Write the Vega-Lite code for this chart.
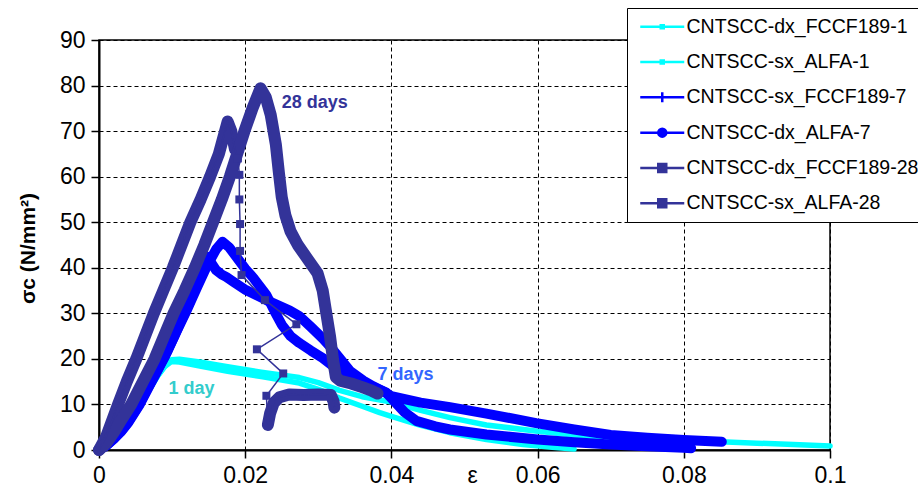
{
  "$schema": "https://vega.github.io/schema/vega-lite/v6.json",
  "width": 731,
  "height": 410,
  "autosize": {"type": "none"},
  "padding": {"left": 99, "top": 40, "right": 88, "bottom": 48},
  "background": "white",
  "config": {
    "view": {"stroke": "black", "strokeWidth": 1.5},
    "axis": {
      "grid": true, "gridColor": "black", "gridDash": [4, 3], "gridWidth": 1, "gridOpacity": 1,
      "domainColor": "black", "domainWidth": 2, "tickColor": "black", "tickWidth": 1.5, "tickSize": 8,
      "labelColor": "black", "labelFont": "Liberation Sans", "labelFontSize": 23,
      "titleColor": "black", "titleFont": "Liberation Sans"
    }
  },
  "datasets": {
    "curves": [
      {"series": "CNTSCC-dx_FCCF189-1", "e": 0, "s": 0},
      {"series": "CNTSCC-dx_FCCF189-1", "e": 0.001, "s": 1},
      {"series": "CNTSCC-dx_FCCF189-1", "e": 0.002, "s": 2.5},
      {"series": "CNTSCC-dx_FCCF189-1", "e": 0.003, "s": 4.2},
      {"series": "CNTSCC-dx_FCCF189-1", "e": 0.004, "s": 6.2},
      {"series": "CNTSCC-dx_FCCF189-1", "e": 0.005, "s": 8.5},
      {"series": "CNTSCC-dx_FCCF189-1", "e": 0.006, "s": 11},
      {"series": "CNTSCC-dx_FCCF189-1", "e": 0.007, "s": 13.6},
      {"series": "CNTSCC-dx_FCCF189-1", "e": 0.008, "s": 16.2},
      {"series": "CNTSCC-dx_FCCF189-1", "e": 0.009, "s": 18.4},
      {"series": "CNTSCC-dx_FCCF189-1", "e": 0.0099, "s": 19.8},
      {"series": "CNTSCC-dx_FCCF189-1", "e": 0.011, "s": 19.9},
      {"series": "CNTSCC-dx_FCCF189-1", "e": 0.0138, "s": 19.3},
      {"series": "CNTSCC-dx_FCCF189-1", "e": 0.0176, "s": 18.3},
      {"series": "CNTSCC-dx_FCCF189-1", "e": 0.0222, "s": 17.1},
      {"series": "CNTSCC-dx_FCCF189-1", "e": 0.0274, "s": 15.9},
      {"series": "CNTSCC-dx_FCCF189-1", "e": 0.03, "s": 14.8},
      {"series": "CNTSCC-dx_FCCF189-1", "e": 0.0329, "s": 13.1},
      {"series": "CNTSCC-dx_FCCF189-1", "e": 0.036, "s": 11.7},
      {"series": "CNTSCC-dx_FCCF189-1", "e": 0.04, "s": 10.5},
      {"series": "CNTSCC-dx_FCCF189-1", "e": 0.044, "s": 8.7},
      {"series": "CNTSCC-dx_FCCF189-1", "e": 0.048, "s": 7.1},
      {"series": "CNTSCC-dx_FCCF189-1", "e": 0.053, "s": 5.5},
      {"series": "CNTSCC-dx_FCCF189-1", "e": 0.06, "s": 4.1},
      {"series": "CNTSCC-dx_FCCF189-1", "e": 0.065, "s": 3.3},
      {"series": "CNTSCC-dx_FCCF189-1", "e": 0.07, "s": 2.8},
      {"series": "CNTSCC-dx_FCCF189-1", "e": 0.075, "s": 2.4},
      {"series": "CNTSCC-dx_FCCF189-1", "e": 0.08, "s": 2.1},
      {"series": "CNTSCC-dx_FCCF189-1", "e": 0.085, "s": 1.8},
      {"series": "CNTSCC-dx_FCCF189-1", "e": 0.09, "s": 1.5},
      {"series": "CNTSCC-dx_FCCF189-1", "e": 0.095, "s": 1.2},
      {"series": "CNTSCC-dx_FCCF189-1", "e": 0.1, "s": 0.9},

      {"series": "CNTSCC-sx_ALFA-1", "e": 0, "s": 0},
      {"series": "CNTSCC-sx_ALFA-1", "e": 0.001, "s": 1},
      {"series": "CNTSCC-sx_ALFA-1", "e": 0.002, "s": 2.5},
      {"series": "CNTSCC-sx_ALFA-1", "e": 0.003, "s": 4.2},
      {"series": "CNTSCC-sx_ALFA-1", "e": 0.004, "s": 6.2},
      {"series": "CNTSCC-sx_ALFA-1", "e": 0.005, "s": 8.5},
      {"series": "CNTSCC-sx_ALFA-1", "e": 0.006, "s": 11},
      {"series": "CNTSCC-sx_ALFA-1", "e": 0.007, "s": 13.6},
      {"series": "CNTSCC-sx_ALFA-1", "e": 0.008, "s": 16.2},
      {"series": "CNTSCC-sx_ALFA-1", "e": 0.009, "s": 18.3},
      {"series": "CNTSCC-sx_ALFA-1", "e": 0.0099, "s": 19.4},
      {"series": "CNTSCC-sx_ALFA-1", "e": 0.011, "s": 19.3},
      {"series": "CNTSCC-sx_ALFA-1", "e": 0.0138, "s": 18.4},
      {"series": "CNTSCC-sx_ALFA-1", "e": 0.0176, "s": 17.3},
      {"series": "CNTSCC-sx_ALFA-1", "e": 0.0222, "s": 16.1},
      {"series": "CNTSCC-sx_ALFA-1", "e": 0.0274, "s": 14.7},
      {"series": "CNTSCC-sx_ALFA-1", "e": 0.03, "s": 13.3},
      {"series": "CNTSCC-sx_ALFA-1", "e": 0.0329, "s": 11.4},
      {"series": "CNTSCC-sx_ALFA-1", "e": 0.036, "s": 9.6},
      {"series": "CNTSCC-sx_ALFA-1", "e": 0.0384, "s": 8.2},
      {"series": "CNTSCC-sx_ALFA-1", "e": 0.04, "s": 7.4},
      {"series": "CNTSCC-sx_ALFA-1", "e": 0.044, "s": 5.4},
      {"series": "CNTSCC-sx_ALFA-1", "e": 0.048, "s": 3.8},
      {"series": "CNTSCC-sx_ALFA-1", "e": 0.053, "s": 2.3},
      {"series": "CNTSCC-sx_ALFA-1", "e": 0.058, "s": 1.2},
      {"series": "CNTSCC-sx_ALFA-1", "e": 0.062, "s": 0.6},
      {"series": "CNTSCC-sx_ALFA-1", "e": 0.065, "s": 0.2},

      {"series": "CNTSCC-sx_FCCF189-7", "e": 0, "s": 0},
      {"series": "CNTSCC-sx_FCCF189-7", "e": 0.001, "s": 1},
      {"series": "CNTSCC-sx_FCCF189-7", "e": 0.002, "s": 2.4},
      {"series": "CNTSCC-sx_FCCF189-7", "e": 0.003, "s": 4.1},
      {"series": "CNTSCC-sx_FCCF189-7", "e": 0.004, "s": 6.2},
      {"series": "CNTSCC-sx_FCCF189-7", "e": 0.0055, "s": 10},
      {"series": "CNTSCC-sx_FCCF189-7", "e": 0.0068, "s": 14},
      {"series": "CNTSCC-sx_FCCF189-7", "e": 0.008, "s": 17.5},
      {"series": "CNTSCC-sx_FCCF189-7", "e": 0.009, "s": 20.5},
      {"series": "CNTSCC-sx_FCCF189-7", "e": 0.0103, "s": 25},
      {"series": "CNTSCC-sx_FCCF189-7", "e": 0.0114, "s": 29},
      {"series": "CNTSCC-sx_FCCF189-7", "e": 0.0123, "s": 32},
      {"series": "CNTSCC-sx_FCCF189-7", "e": 0.0133, "s": 36},
      {"series": "CNTSCC-sx_FCCF189-7", "e": 0.0141, "s": 40},
      {"series": "CNTSCC-sx_FCCF189-7", "e": 0.0147, "s": 42.5},
      {"series": "CNTSCC-sx_FCCF189-7", "e": 0.0153, "s": 41.2},
      {"series": "CNTSCC-sx_FCCF189-7", "e": 0.016, "s": 39.5},
      {"series": "CNTSCC-sx_FCCF189-7", "e": 0.0168, "s": 38.5},
      {"series": "CNTSCC-sx_FCCF189-7", "e": 0.0174, "s": 38},
      {"series": "CNTSCC-sx_FCCF189-7", "e": 0.0185, "s": 36.8},
      {"series": "CNTSCC-sx_FCCF189-7", "e": 0.0201, "s": 35.1},
      {"series": "CNTSCC-sx_FCCF189-7", "e": 0.0229, "s": 32.9},
      {"series": "CNTSCC-sx_FCCF189-7", "e": 0.0261, "s": 30.6},
      {"series": "CNTSCC-sx_FCCF189-7", "e": 0.0274, "s": 29.4},
      {"series": "CNTSCC-sx_FCCF189-7", "e": 0.029, "s": 27},
      {"series": "CNTSCC-sx_FCCF189-7", "e": 0.0306, "s": 24.5},
      {"series": "CNTSCC-sx_FCCF189-7", "e": 0.032, "s": 22},
      {"series": "CNTSCC-sx_FCCF189-7", "e": 0.0343, "s": 17.4},
      {"series": "CNTSCC-sx_FCCF189-7", "e": 0.0362, "s": 15.2},
      {"series": "CNTSCC-sx_FCCF189-7", "e": 0.0375, "s": 14},
      {"series": "CNTSCC-sx_FCCF189-7", "e": 0.039, "s": 12.8},
      {"series": "CNTSCC-sx_FCCF189-7", "e": 0.04, "s": 11.8},
      {"series": "CNTSCC-sx_FCCF189-7", "e": 0.044, "s": 10.4},
      {"series": "CNTSCC-sx_FCCF189-7", "e": 0.048, "s": 9.4},
      {"series": "CNTSCC-sx_FCCF189-7", "e": 0.053, "s": 8},
      {"series": "CNTSCC-sx_FCCF189-7", "e": 0.0598, "s": 5.9},
      {"series": "CNTSCC-sx_FCCF189-7", "e": 0.065, "s": 4.5},
      {"series": "CNTSCC-sx_FCCF189-7", "e": 0.07, "s": 3.3},
      {"series": "CNTSCC-sx_FCCF189-7", "e": 0.075, "s": 2.7},
      {"series": "CNTSCC-sx_FCCF189-7", "e": 0.08, "s": 2.2},
      {"series": "CNTSCC-sx_FCCF189-7", "e": 0.0852, "s": 1.8},

      {"series": "CNTSCC-dx_ALFA-7", "e": 0, "s": 0},
      {"series": "CNTSCC-dx_ALFA-7", "e": 0.001, "s": 1},
      {"series": "CNTSCC-dx_ALFA-7", "e": 0.002, "s": 2.4},
      {"series": "CNTSCC-dx_ALFA-7", "e": 0.003, "s": 4.0},
      {"series": "CNTSCC-dx_ALFA-7", "e": 0.004, "s": 6.0},
      {"series": "CNTSCC-dx_ALFA-7", "e": 0.0055, "s": 9.8},
      {"series": "CNTSCC-dx_ALFA-7", "e": 0.0068, "s": 13.8},
      {"series": "CNTSCC-dx_ALFA-7", "e": 0.0081, "s": 17.8},
      {"series": "CNTSCC-dx_ALFA-7", "e": 0.0093, "s": 21.5},
      {"series": "CNTSCC-dx_ALFA-7", "e": 0.0107, "s": 26.3},
      {"series": "CNTSCC-dx_ALFA-7", "e": 0.0121, "s": 31},
      {"series": "CNTSCC-dx_ALFA-7", "e": 0.0135, "s": 36},
      {"series": "CNTSCC-dx_ALFA-7", "e": 0.0148, "s": 40.5},
      {"series": "CNTSCC-dx_ALFA-7", "e": 0.016, "s": 44},
      {"series": "CNTSCC-dx_ALFA-7", "e": 0.0169, "s": 45.7},
      {"series": "CNTSCC-dx_ALFA-7", "e": 0.0178, "s": 44.5},
      {"series": "CNTSCC-dx_ALFA-7", "e": 0.0188, "s": 42.4},
      {"series": "CNTSCC-dx_ALFA-7", "e": 0.02, "s": 39.8},
      {"series": "CNTSCC-dx_ALFA-7", "e": 0.0211, "s": 37.8},
      {"series": "CNTSCC-dx_ALFA-7", "e": 0.0229, "s": 34},
      {"series": "CNTSCC-dx_ALFA-7", "e": 0.024, "s": 30.5},
      {"series": "CNTSCC-dx_ALFA-7", "e": 0.025, "s": 27.5},
      {"series": "CNTSCC-dx_ALFA-7", "e": 0.0262, "s": 25},
      {"series": "CNTSCC-dx_ALFA-7", "e": 0.0274, "s": 23.5},
      {"series": "CNTSCC-dx_ALFA-7", "e": 0.029, "s": 21.8},
      {"series": "CNTSCC-dx_ALFA-7", "e": 0.0306, "s": 20.2},
      {"series": "CNTSCC-dx_ALFA-7", "e": 0.0325, "s": 17.8},
      {"series": "CNTSCC-dx_ALFA-7", "e": 0.0357, "s": 15.2},
      {"series": "CNTSCC-dx_ALFA-7", "e": 0.038, "s": 13.5},
      {"series": "CNTSCC-dx_ALFA-7", "e": 0.0393, "s": 12.6},
      {"series": "CNTSCC-dx_ALFA-7", "e": 0.0405, "s": 10.5},
      {"series": "CNTSCC-dx_ALFA-7", "e": 0.0418, "s": 8.3},
      {"series": "CNTSCC-dx_ALFA-7", "e": 0.0434, "s": 6.4},
      {"series": "CNTSCC-dx_ALFA-7", "e": 0.046, "s": 5.2},
      {"series": "CNTSCC-dx_ALFA-7", "e": 0.048, "s": 4.5},
      {"series": "CNTSCC-dx_ALFA-7", "e": 0.053, "s": 3.4},
      {"series": "CNTSCC-dx_ALFA-7", "e": 0.06, "s": 2.3},
      {"series": "CNTSCC-dx_ALFA-7", "e": 0.065, "s": 1.7},
      {"series": "CNTSCC-dx_ALFA-7", "e": 0.07, "s": 1.2},
      {"series": "CNTSCC-dx_ALFA-7", "e": 0.075, "s": 0.8},
      {"series": "CNTSCC-dx_ALFA-7", "e": 0.08, "s": 0.5},
      {"series": "CNTSCC-dx_ALFA-7", "e": 0.081, "s": 0.4},

      {"series": "CNTSCC-dx_FCCF189-28", "e": 0, "s": 0},
      {"series": "CNTSCC-dx_FCCF189-28", "e": 0.001, "s": 3},
      {"series": "CNTSCC-dx_FCCF189-28", "e": 0.0026, "s": 10},
      {"series": "CNTSCC-dx_FCCF189-28", "e": 0.0038, "s": 15},
      {"series": "CNTSCC-dx_FCCF189-28", "e": 0.0051, "s": 20},
      {"series": "CNTSCC-dx_FCCF189-28", "e": 0.0063, "s": 25},
      {"series": "CNTSCC-dx_FCCF189-28", "e": 0.0075, "s": 30},
      {"series": "CNTSCC-dx_FCCF189-28", "e": 0.0088, "s": 35},
      {"series": "CNTSCC-dx_FCCF189-28", "e": 0.0101, "s": 40},
      {"series": "CNTSCC-dx_FCCF189-28", "e": 0.0113, "s": 45},
      {"series": "CNTSCC-dx_FCCF189-28", "e": 0.0125, "s": 50},
      {"series": "CNTSCC-dx_FCCF189-28", "e": 0.0139, "s": 55},
      {"series": "CNTSCC-dx_FCCF189-28", "e": 0.0152, "s": 60},
      {"series": "CNTSCC-dx_FCCF189-28", "e": 0.0164, "s": 65},
      {"series": "CNTSCC-dx_FCCF189-28", "e": 0.0176, "s": 72.1},
      {"series": "CNTSCC-dx_FCCF189-28", "e": 0.0181, "s": 70},
      {"series": "CNTSCC-dx_FCCF189-28", "e": 0.0186, "s": 66},
      {"series": "CNTSCC-dx_FCCF189-28", "e": 0.019, "s": 64, "part": "drop"},
      {"series": "CNTSCC-dx_FCCF189-28", "e": 0.0192, "s": 60.4, "part": "drop"},
      {"series": "CNTSCC-dx_FCCF189-28", "e": 0.0192, "s": 55, "part": "drop"},
      {"series": "CNTSCC-dx_FCCF189-28", "e": 0.0193, "s": 49.6, "part": "drop"},
      {"series": "CNTSCC-dx_FCCF189-28", "e": 0.0193, "s": 43.7, "part": "drop"},
      {"series": "CNTSCC-dx_FCCF189-28", "e": 0.0195, "s": 38.4, "part": "drop"},
      {"series": "CNTSCC-dx_FCCF189-28", "e": 0.0227, "s": 32.9, "part": "drop"},
      {"series": "CNTSCC-dx_FCCF189-28", "e": 0.027, "s": 27.6, "part": "drop"},
      {"series": "CNTSCC-dx_FCCF189-28", "e": 0.0216, "s": 22.1, "part": "drop"},
      {"series": "CNTSCC-dx_FCCF189-28", "e": 0.0252, "s": 16.8, "part": "drop"},
      {"series": "CNTSCC-dx_FCCF189-28", "e": 0.0229, "s": 11.9, "part": "drop"},
      {"series": "CNTSCC-dx_FCCF189-28", "e": 0.0231, "s": 5.5, "part": "residual"},
      {"series": "CNTSCC-dx_FCCF189-28", "e": 0.0234, "s": 8, "part": "residual"},
      {"series": "CNTSCC-dx_FCCF189-28", "e": 0.0239, "s": 10.3, "part": "residual"},
      {"series": "CNTSCC-dx_FCCF189-28", "e": 0.0247, "s": 11.6, "part": "residual"},
      {"series": "CNTSCC-dx_FCCF189-28", "e": 0.026, "s": 12.2, "part": "residual"},
      {"series": "CNTSCC-dx_FCCF189-28", "e": 0.028, "s": 12.1, "part": "residual"},
      {"series": "CNTSCC-dx_FCCF189-28", "e": 0.03, "s": 12.2, "part": "residual"},
      {"series": "CNTSCC-dx_FCCF189-28", "e": 0.0317, "s": 12.1, "part": "residual"},
      {"series": "CNTSCC-dx_FCCF189-28", "e": 0.0321, "s": 10.6, "part": "residual"},
      {"series": "CNTSCC-dx_FCCF189-28", "e": 0.0322, "s": 9.3, "part": "residual"},

      {"series": "CNTSCC-sx_ALFA-28", "e": 0, "s": 0},
      {"series": "CNTSCC-sx_ALFA-28", "e": 0.001, "s": 1.5},
      {"series": "CNTSCC-sx_ALFA-28", "e": 0.002, "s": 3.8},
      {"series": "CNTSCC-sx_ALFA-28", "e": 0.003, "s": 6.5},
      {"series": "CNTSCC-sx_ALFA-28", "e": 0.0044, "s": 10},
      {"series": "CNTSCC-sx_ALFA-28", "e": 0.006, "s": 15},
      {"series": "CNTSCC-sx_ALFA-28", "e": 0.0076, "s": 20},
      {"series": "CNTSCC-sx_ALFA-28", "e": 0.0089, "s": 25},
      {"series": "CNTSCC-sx_ALFA-28", "e": 0.0102, "s": 30},
      {"series": "CNTSCC-sx_ALFA-28", "e": 0.0117, "s": 35},
      {"series": "CNTSCC-sx_ALFA-28", "e": 0.0131, "s": 40},
      {"series": "CNTSCC-sx_ALFA-28", "e": 0.0144, "s": 45},
      {"series": "CNTSCC-sx_ALFA-28", "e": 0.0156, "s": 50},
      {"series": "CNTSCC-sx_ALFA-28", "e": 0.0168, "s": 55},
      {"series": "CNTSCC-sx_ALFA-28", "e": 0.0179, "s": 60},
      {"series": "CNTSCC-sx_ALFA-28", "e": 0.0189, "s": 65},
      {"series": "CNTSCC-sx_ALFA-28", "e": 0.0199, "s": 70},
      {"series": "CNTSCC-sx_ALFA-28", "e": 0.021, "s": 75},
      {"series": "CNTSCC-sx_ALFA-28", "e": 0.0221, "s": 79.4},
      {"series": "CNTSCC-sx_ALFA-28", "e": 0.0228, "s": 77.5},
      {"series": "CNTSCC-sx_ALFA-28", "e": 0.0235, "s": 73.5},
      {"series": "CNTSCC-sx_ALFA-28", "e": 0.0242, "s": 67},
      {"series": "CNTSCC-sx_ALFA-28", "e": 0.0246, "s": 61},
      {"series": "CNTSCC-sx_ALFA-28", "e": 0.025, "s": 55.5},
      {"series": "CNTSCC-sx_ALFA-28", "e": 0.0255, "s": 51.5},
      {"series": "CNTSCC-sx_ALFA-28", "e": 0.0262, "s": 48},
      {"series": "CNTSCC-sx_ALFA-28", "e": 0.0272, "s": 45},
      {"series": "CNTSCC-sx_ALFA-28", "e": 0.0285, "s": 42},
      {"series": "CNTSCC-sx_ALFA-28", "e": 0.0299, "s": 38.8},
      {"series": "CNTSCC-sx_ALFA-28", "e": 0.0306, "s": 35},
      {"series": "CNTSCC-sx_ALFA-28", "e": 0.0311, "s": 30},
      {"series": "CNTSCC-sx_ALFA-28", "e": 0.0316, "s": 25},
      {"series": "CNTSCC-sx_ALFA-28", "e": 0.032, "s": 20},
      {"series": "CNTSCC-sx_ALFA-28", "e": 0.0324, "s": 16},
      {"series": "CNTSCC-sx_ALFA-28", "e": 0.033, "s": 15.2},
      {"series": "CNTSCC-sx_ALFA-28", "e": 0.0345, "s": 14.6},
      {"series": "CNTSCC-sx_ALFA-28", "e": 0.036, "s": 13.8},
      {"series": "CNTSCC-sx_ALFA-28", "e": 0.0372, "s": 13.1},
      {"series": "CNTSCC-sx_ALFA-28", "e": 0.0381, "s": 12.4}
    ]
  },
  "layer": [
    {
      "data": {"name": "curves"},
      "transform": [{"filter": {"field": "series", "oneOf": ["CNTSCC-dx_FCCF189-1", "CNTSCC-sx_ALFA-1"]}}],
      "mark": {"type": "line", "strokeWidth": 5.5, "strokeJoin": "round", "strokeCap": "round", "clip": false},
      "encoding": {
        "x": {
          "field": "e", "type": "quantitative",
          "scale": {"domain": [0, 0.1], "nice": false, "zero": false},
          "axis": {
            "values": [0, 0.02, 0.04, 0.06, 0.08, 0.1], "format": "~g",
            "title": "ε", "titleFontSize": 23, "titleFontWeight": "normal",
            "titleX": 373, "titleY": 14, "titleBaseline": "top", "titleAlign": "center",
            "labelPadding": 6, "labelFlush": false
          }
        },
        "y": {
          "field": "s", "type": "quantitative",
          "scale": {"domain": [0, 90], "nice": false},
          "axis": {
            "values": [0, 10, 20, 30, 40, 50, 60, 70, 80, 90],
            "title": "σc (N/mm²)", "titleFontSize": 21, "titleFontWeight": "bold",
            "titleAngle": -90, "titleX": -71, "titleY": 208, "titleAlign": "center", "titleBaseline": "middle",
            "labelPadding": 6
          }
        },
        "color": {
          "field": "series", "type": "nominal",
          "scale": {
            "domain": ["CNTSCC-dx_FCCF189-1", "CNTSCC-sx_ALFA-1", "CNTSCC-sx_FCCF189-7", "CNTSCC-dx_ALFA-7", "CNTSCC-dx_FCCF189-28", "CNTSCC-sx_ALFA-28"],
            "range": ["#00FFFF", "#00FFFF", "#0000FF", "#0000FF", "#333399", "#333399"]
          },
          "legend": {
            "title": null, "orient": "none", "legendX": 528, "legendY": -32,
            "padding": 9, "rowPadding": 14.3, "labelFont": "Liberation Sans", "labelFontSize": 19.5,
            "labelColor": "black", "labelLimit": 400, "labelOffset": 31,
            "strokeColor": "black", "fillColor": "white",
            "symbolSize": 100, "symbolStrokeWidth": 2.5, "symbolType": "M-1.1,0H7.7",
            "encode": {
              "symbols": {
                "update": {
                  "shape": {"signal": "datum.value === 'CNTSCC-sx_FCCF189-7' ? 'M-1.1,0H7.7M3.3,-1V1' : datum.value === 'CNTSCC-dx_ALFA-7' ? 'M-1.1,0H7.7M4.1,0A0.8,0.8,0,1,1,2.5,0A0.8,0.8,0,1,1,4.1,0Z' : indexof(datum.value, '-28') > 0 ? 'M-1.1,0H7.7M2.5,-0.8H4.1V0.8H2.5Z' : 'M-1.1,0H7.7M3,-0.3H3.6V0.3H3Z'"},
                  "fill": {"signal": "scale('color', datum.value)"},
                  "stroke": {"signal": "scale('color', datum.value)"},
                  "strokeWidth": {"value": 2.5},
                  "opacity": {"value": 1},
                  "fillOpacity": {"value": 1}
                }
              }
            }
          }
        },
        "order": {"value": null}
      }
    },
    {
      "data": {"name": "curves"},
      "transform": [{"filter": {"field": "series", "oneOf": ["CNTSCC-sx_FCCF189-7", "CNTSCC-dx_ALFA-7"]}}],
      "mark": {"type": "line", "strokeWidth": 10, "strokeJoin": "round", "strokeCap": "round", "clip": false},
      "encoding": {
        "x": {"field": "e", "type": "quantitative"},
        "y": {"field": "s", "type": "quantitative"},
        "color": {"field": "series", "type": "nominal"},
        "order": {"value": null}
      }
    },
    {
      "data": {"name": "curves"},
      "transform": [
        {"filter": {"field": "series", "oneOf": ["CNTSCC-dx_FCCF189-28", "CNTSCC-sx_ALFA-28"]}},
        {"filter": "datum.part !== 'drop'"}
      ],
      "mark": {"type": "line", "strokeWidth": 12, "strokeJoin": "round", "strokeCap": "round", "clip": false},
      "encoding": {
        "x": {"field": "e", "type": "quantitative"},
        "y": {"field": "s", "type": "quantitative"},
        "color": {"field": "series", "type": "nominal"},
        "detail": {"field": "part"},
        "order": {"value": null}
      }
    },
    {
      "data": {"name": "curves"},
      "transform": [{"filter": "datum.series === 'CNTSCC-dx_FCCF189-28'"}],
      "mark": {"type": "line", "color": "#333399", "strokeWidth": 1.5, "clip": false},
      "encoding": {
        "x": {"field": "e", "type": "quantitative"},
        "y": {"field": "s", "type": "quantitative"},
        "order": {"value": null}
      }
    },
    {
      "data": {"name": "curves"},
      "transform": [{"filter": "datum.part === 'drop'"}],
      "mark": {"type": "square", "color": "#333399", "size": 64, "opacity": 1, "filled": true},
      "encoding": {
        "x": {"field": "e", "type": "quantitative"},
        "y": {"field": "s", "type": "quantitative"}
      }
    },
    {
      "data": {"values": [{"e": 0.025, "s": 76.2, "label": "28 days"}]},
      "mark": {"type": "text", "align": "left", "baseline": "middle", "font": "Liberation Sans", "fontSize": 18, "fontWeight": "bold", "color": "#333399"},
      "encoding": {"x": {"field": "e", "type": "quantitative"}, "y": {"field": "s", "type": "quantitative"}, "text": {"field": "label"}}
    },
    {
      "data": {"values": [{"e": 0.0381, "s": 16.4, "label": "7 days"}]},
      "mark": {"type": "text", "align": "left", "baseline": "middle", "font": "Liberation Sans", "fontSize": 18, "fontWeight": "bold", "color": "#3366FF"},
      "encoding": {"x": {"field": "e", "type": "quantitative"}, "y": {"field": "s", "type": "quantitative"}, "text": {"field": "label"}}
    },
    {
      "data": {"values": [{"e": 0.0095, "s": 13.4, "label": "1 day"}]},
      "mark": {"type": "text", "align": "left", "baseline": "middle", "font": "Liberation Sans", "fontSize": 18, "fontWeight": "bold", "color": "#33CCCC"},
      "encoding": {"x": {"field": "e", "type": "quantitative"}, "y": {"field": "s", "type": "quantitative"}, "text": {"field": "label"}}
    }
  ]
}
